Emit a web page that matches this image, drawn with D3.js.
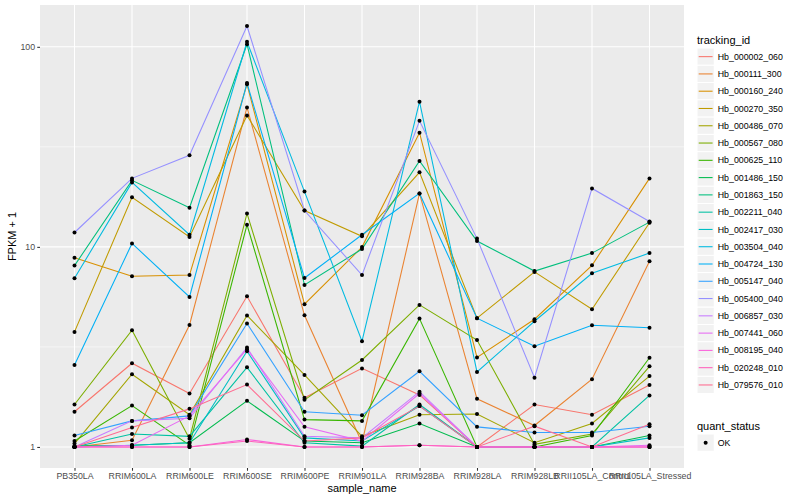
<!DOCTYPE html>
<html>
<head>
<meta charset="utf-8">
<script src="https://cdn.jsdelivr.net/npm/d3@7"></script>
<style>
  body { margin: 0; background: #fff; }
  text { font-family: "Liberation Sans", Arial, Helvetica, sans-serif; }
</style>
</head>
<body>
<svg id="chart" width="800" height="500"></svg>
<script>
// samples on the x axis
const samples = ["PB350LA", "RRIM600LA", "RRIM600LE", "RRIM600SE", "RRIM600PE", "RRIM901LA",
  "RRIM928BA", "RRIM928LA", "RRIM928LB", "RRII105LA_Control", "RRII105LA_Stressed"];

// FPKM + 1 per tracking id, one value per sample
const hb_000002_060 = [1.50, 2.62, 1.85, 5.66, 1.76, 2.47, 1.82, 1.00, 1.63, 1.45, 2.04];
const hb_000111_300 = [1.00, 1.08, 4.07, 49.8, 4.55, 1.05, 18.5, 1.74, 1.28, 2.18, 8.47];
const hb_000160_240 = [8.83, 7.13, 7.23, 65.0, 5.17, 9.98, 37.2, 2.80, 4.35, 8.09, 22.0];
const hb_000270_350 = [3.76, 17.7, 11.2, 45.4, 15.2, 11.3, 23.6, 4.40, 7.50, 4.88, 13.2];
const hb_000486_070 = [1.04, 2.31, 1.45, 4.54, 2.29, 1.13, 1.45, 1.46, 1.05, 1.31, 2.26];
const hb_000567_080 = [1.63, 3.83, 1.10, 14.7, 1.72, 2.72, 5.13, 3.42, 1.03, 1.16, 2.53];
const hb_000625_110 = [1.07, 1.61, 1.02, 12.9, 1.37, 1.35, 4.38, 1.00, 1.00, 1.14, 2.79];
const hb_001486_150 = [1.01, 1.02, 1.05, 1.70, 1.07, 1.05, 1.31, 1.00, 1.00, 1.00, 1.14];
const hb_001863_150 = [8.06, 21.5, 15.7, 103, 6.45, 9.76, 26.9, 10.7, 7.57, 9.31, 13.3];
const hb_002211_040 = [1.00, 1.16, 1.13, 2.50, 1.05, 1.01, 1.63, 1.00, 1.00, 1.00, 1.81];
const hb_002417_030 = [1.00, 1.02, 1.05, 3.01, 1.11, 1.07, 1.60, 1.00, 1.00, 1.00, 1.11];
const hb_003504_040 = [6.97, 21.0, 11.5, 106, 18.9, 3.38, 53.2, 2.37, 4.25, 7.38, 9.31];
const hb_004724_130 = [2.57, 10.4, 5.62, 65.9, 6.99, 11.5, 18.5, 4.40, 3.19, 4.06, 3.94];
const hb_005147_040 = [1.14, 1.35, 1.43, 4.14, 1.50, 1.44, 2.39, 1.26, 1.18, 1.18, 1.27];
const hb_005400_040 = [11.8, 22.0, 28.7, 127, 15.2, 7.23, 42.7, 11.0, 2.22, 19.6, 13.4];
const hb_006857_030 = [1.00, 1.35, 1.39, 3.14, 1.13, 1.11, 1.89, 1.00, 1.00, 1.00, 1.00];
const hb_007441_060 = [1.00, 1.02, 1.43, 3.08, 1.26, 1.07, 1.85, 1.00, 1.00, 1.00, 1.02];
const hb_008195_040 = [1.00, 1.00, 1.00, 1.09, 1.00, 1.00, 1.02, 1.00, 1.00, 1.00, 1.00];
const hb_020248_010 = [1.00, 1.00, 1.00, 1.07, 1.00, 1.00, 1.02, 1.00, 1.00, 1.00, 1.00];
const hb_079576_010 = [1.00, 1.25, 1.55, 2.05, 1.07, 1.11, 1.60, 1.00, 1.27, 1.00, 1.30];

const trackingIds = ["Hb_000002_060", "Hb_000111_300", "Hb_000160_240", "Hb_000270_350",
  "Hb_000486_070", "Hb_000567_080", "Hb_000625_110", "Hb_001486_150", "Hb_001863_150",
  "Hb_002211_040", "Hb_002417_030", "Hb_003504_040", "Hb_004724_130", "Hb_005147_040",
  "Hb_005400_040", "Hb_006857_030", "Hb_007441_060", "Hb_008195_040", "Hb_020248_010",
  "Hb_079576_010"];
const seriesValues = [hb_000002_060, hb_000111_300, hb_000160_240, hb_000270_350,
  hb_000486_070, hb_000567_080, hb_000625_110, hb_001486_150, hb_001863_150,
  hb_002211_040, hb_002417_030, hb_003504_040, hb_004724_130, hb_005147_040,
  hb_005400_040, hb_006857_030, hb_007441_060, hb_008195_040, hb_020248_010,
  hb_079576_010];
const yTicks = [1, 10, 100];
const quantStatus = ["OK"];

// ggplot default hue palette for 20 levels
const hues = ["#F8766D", "#EA8331", "#D89000", "#C09B00", "#A3A500", "#7CAE00", "#39B600",
  "#00BB4E", "#00BF7D", "#00C1A3", "#00BFC4", "#00BAE0", "#00B0F6", "#35A2FF", "#9590FF",
  "#C77CFF", "#E76BF3", "#FA62DB", "#FF62BC", "#FF6C91"];

const series = trackingIds.map((id, i) => ({
  id: id,
  points: samples.map((s, j) => ({sample: s, value: seriesValues[i][j]}))
}));

const panel = {left: 40, right: 684, top: 5, bottom: 468};
const svg = d3.select("#chart");

const x = d3.scalePoint()
  .domain(samples)
  .range([panel.left, panel.right])
  .padding(0.6);

// log scale with ggplot-like 5% expansion
const allVals = seriesValues.flat();
const lmin = Math.log10(d3.min(allVals)), lmax = Math.log10(d3.max(allVals));
const pad = (lmax - lmin) * 0.05;
const y = d3.scaleLog()
  .domain([Math.pow(10, lmin - pad), Math.pow(10, lmax + pad)])
  .range([panel.bottom, panel.top]);

const color = d3.scaleOrdinal().domain(trackingIds).range(hues);

// panel background
svg.append("rect")
  .attr("x", panel.left).attr("y", panel.top)
  .attr("width", panel.right - panel.left)
  .attr("height", panel.bottom - panel.top)
  .style("fill", "#EBEBEB");

const grid = svg.append("g");
// minor grid (midway in log space)
const minor = [Math.pow(10, 0.5), Math.pow(10, 1.5)];
grid.selectAll(".minor").data(minor).enter().append("line")
  .attr("x1", panel.left).attr("x2", panel.right)
  .attr("y1", d => y(d)).attr("y2", d => y(d))
  .style("stroke", "#fff").style("stroke-width", 0.53);
grid.selectAll(".majory").data(yTicks).enter().append("line")
  .attr("x1", panel.left).attr("x2", panel.right)
  .attr("y1", d => y(d)).attr("y2", d => y(d))
  .style("stroke", "#fff").style("stroke-width", 1.07);
grid.selectAll(".majorx").data(samples).enter().append("line")
  .attr("y1", panel.top).attr("y2", panel.bottom)
  .attr("x1", d => x(d)).attr("x2", d => x(d))
  .style("stroke", "#fff").style("stroke-width", 1.07);

// lines
const line = d3.line()
  .x(d => x(d.sample))
  .y(d => y(d.value));

svg.append("g").selectAll("path")
  .data(series)
  .enter().append("path")
  .attr("d", d => line(d.points))
  .style("fill", "none")
  .style("stroke", d => color(d.id))
  .style("stroke-width", 1.07);

// points
svg.append("g").selectAll("g")
  .data(series)
  .enter().append("g")
  .selectAll("circle")
  .data(d => d.points)
  .enter().append("circle")
  .attr("cx", d => x(d.sample))
  .attr("cy", d => y(d.value))
  .attr("r", 2)
  .style("fill", "#000");

// axes
const xAxis = d3.axisBottom(x).tickSize(2.75).tickPadding(2.2);
const gx = svg.append("g")
  .attr("transform", `translate(0,${panel.bottom})`)
  .call(xAxis);
gx.select(".domain").remove();
gx.selectAll("line").style("stroke", "#333333").style("stroke-width", 1.07);
gx.selectAll("text").style("font-size", "8.8px").style("fill", "#4D4D4D");

const yAxis = d3.axisLeft(y).tickValues(yTicks).tickFormat(d3.format("d"))
  .tickSize(2.75).tickPadding(2.2);
const gy = svg.append("g")
  .attr("transform", `translate(${panel.left},0)`)
  .call(yAxis);
gy.select(".domain").remove();
gy.selectAll("line").style("stroke", "#333333").style("stroke-width", 1.07);
gy.selectAll("text").style("font-size", "8.8px").style("fill", "#4D4D4D");

svg.selectAll(".tick text").style("font-family", "'Liberation Sans', Arial, sans-serif");

// axis titles
svg.append("text")
  .attr("x", (panel.left + panel.right) / 2)
  .attr("y", 492)
  .attr("text-anchor", "middle")
  .style("font-size", "11px")
  .text("sample_name");

svg.append("text")
  .attr("transform", `translate(16,${(panel.top + panel.bottom) / 2}) rotate(-90)`)
  .attr("text-anchor", "middle")
  .style("font-size", "11px")
  .text("FPKM + 1");

// legend: tracking_id
const legX = 697, keyH = 17.28, keyW = 17.28;
const leg = svg.append("g");
leg.append("text")
  .attr("x", legX).attr("y", 44)
  .style("font-size", "11px")
  .text("tracking_id");

const items = leg.selectAll(".item")
  .data(trackingIds)
  .enter().append("g")
  .attr("transform", (d, i) => `translate(${legX},${48 + i * keyH})`);
items.append("rect")
  .attr("width", keyW).attr("height", keyH)
  .style("fill", "#F2F2F2")
  .style("stroke", "#fff").style("stroke-width", 1);
items.append("line")
  .attr("x1", 1.7).attr("x2", keyW - 1.7)
  .attr("y1", keyH / 2).attr("y2", keyH / 2)
  .style("stroke", d => color(d)).style("stroke-width", 1.07);
items.append("text")
  .attr("x", keyW + 3.5).attr("y", keyH / 2 + 3.1)
  .style("font-size", "8.8px")
  .text(d => d);

// legend: quant_status
const leg2 = svg.append("g");
leg2.append("text")
  .attr("x", legX).attr("y", 430)
  .style("font-size", "11px")
  .text("quant_status");
const items2 = leg2.selectAll(".item")
  .data(quantStatus)
  .enter().append("g")
  .attr("transform", (d, i) => `translate(${legX},${434 + i * keyH})`);
items2.append("rect")
  .attr("width", keyW).attr("height", keyH)
  .style("fill", "#F2F2F2")
  .style("stroke", "#fff").style("stroke-width", 1);
items2.append("circle")
  .attr("cx", keyW / 2).attr("cy", keyH / 2).attr("r", 2)
  .style("fill", "#000");
items2.append("text")
  .attr("x", keyW + 3.5).attr("y", keyH / 2 + 3.1)
  .style("font-size", "8.8px")
  .text(d => d);
</script>
</body>
</html>
